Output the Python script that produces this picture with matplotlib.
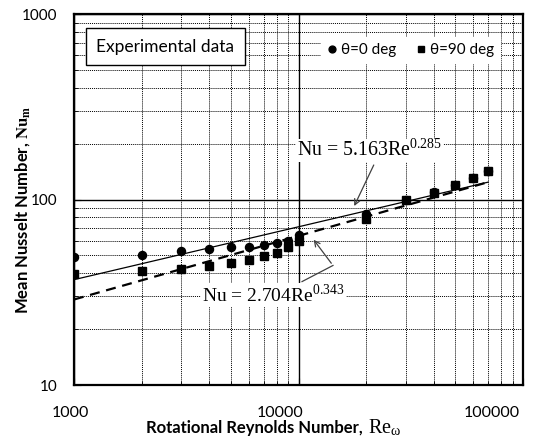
import matplotlib
matplotlib.use("Agg")
import matplotlib.pyplot as plt
import numpy as np

plt.rcParams['font.family'] = ['Lato', 'DejaVu Sans']
plt.rcParams['mathtext.fontset'] = 'stix'

# data
re_vals = [1000, 2000, 3000, 4000, 5000, 6000, 7000, 8000, 9000, 10000,
           20000, 30000, 40000, 50000, 60000, 70000]
nu_0deg = [49, 50, 52.5, 54.2, 55.3, 55.5, 57, 58.1, 60.1, 64,
           83.7, 100, 110, 119, 130, 143]
nu_90deg = [39.7, 41.4, 42.3, 43.6, 45.4, 47.3, 49.3, 51.4, 55.3, 60.1,
            78.8, 99, 108, 119, 130, 143]

# correlations Nu = C Re^n
fit_0 = (5.163, 0.285)
fit_90 = (2.704, 0.343)
fit_range = (1000, 70000)

x_ticklabels = ["1000", "10000", "100000"]
y_ticklabels = ["10", "100", "1000"]

fig = plt.figure(figsize=(5.56, 4.38), dpi=100)
ax = fig.add_axes([0.1331, 0.121, 0.8076, 0.847])

ax.set_xscale("log")
ax.set_yscale("log")
ax.set_xlim(1000, 100000)
ax.set_ylim(10, 1000)

# grid: solid at decades, dotted for minor
ax.grid(True, which="major", color="black", linewidth=1.0, linestyle="-")
ax.grid(True, which="minor", color="black", linewidth=0.7, linestyle=(0, (1, 1)))
ax.set_axisbelow(True)

for sp in ax.spines.values():
    sp.set_linewidth(1.6)

re_fit = np.logspace(np.log10(fit_range[0]), np.log10(fit_range[1]), 100)
ax.plot(re_fit, fit_0[0] * re_fit ** fit_0[1], color="black", linewidth=0.9, zorder=3)
ax.plot(re_fit, fit_90[0] * re_fit ** fit_90[1], color="black", linewidth=1.6,
        dashes=(4.5, 3), zorder=3)

ax.plot(re_vals, nu_0deg, "o", color="black", markersize=5.8, linestyle="none",
        label="θ=0 deg", zorder=4)
ax.plot(re_vals, nu_90deg, "s", color="black", markersize=5.8, linestyle="none",
        label="θ=90 deg", zorder=4)

# ticks
ax.tick_params(which="both", direction="in", top=False, right=False)
ax.tick_params(which="major", length=5, labelsize=11)
ax.tick_params(which="minor", length=3)
ax.tick_params(axis="y", which="major", pad=12)
ax.yaxis.set_minor_formatter(matplotlib.ticker.NullFormatter())
ax.xaxis.set_minor_formatter(matplotlib.ticker.NullFormatter())
ax.set_yticks([10, 100, 1000])
ax.set_yticklabels(y_ticklabels)
ax.set_xticks([1000, 10000, 100000])
ax.set_xticklabels([])
# excel-style labels, a bit shifted from their ticks
for xpos, lab in zip([-0.009, 0.459, 0.931], x_ticklabels):
    ax.text(xpos, -0.0755, lab, transform=ax.transAxes, ha="center", va="center",
            fontsize=11.5)

# axis titles: sans bold part + serif symbol part
fig.text(0.660, 0.0228, "Rotational Reynolds Number, ", ha="right", va="center",
         fontsize=12, fontweight="bold")
fig.text(0.662, 0.0228, r"Re$_{\mathregular{\omega}}$", ha="left", va="center",
         fontsize=14.5, family=["Liberation Serif", "DejaVu Serif"])
fig.text(0.04, 0.52, r"Mean Nusselt Number, $\mathbf{Nu}_{\mathbf{m}}$",
         rotation=90, ha="center", va="center", fontsize=12, fontweight="bold")

ax.text(0.203, 0.912, "Experimental data", transform=ax.transAxes, ha="center",
        va="center", fontsize=12.5,
        bbox=dict(boxstyle="square,pad=0.6", facecolor="white", edgecolor="black",
                  linewidth=1.0), zorder=5)

leg = ax.legend(loc="center", bbox_to_anchor=(0.75, 0.903), ncol=2, frameon=True,
                fontsize=11, handlelength=0.6, handletextpad=0.3, columnspacing=1.3,
                markerscale=0.85, borderpad=0.4, fancybox=False)
leg.get_frame().set_facecolor("white")
leg.get_frame().set_edgecolor("white")
leg.get_frame().set_alpha(1)

serif = ["Liberation Serif", "DejaVu Serif"]
ax.text(9840, 183.6, r"Nu = 5.163Re$^{\mathregular{0.285}}$", family=serif,
        fontsize=14.3, ha="left", va="center", zorder=5,
        bbox=dict(boxstyle="square,pad=0.05", facecolor="white", edgecolor="none"))
ax.annotate("", xy=(17490, 89.4), xytext=(21900, 158.3),
            arrowprops=dict(arrowstyle="->", color="#404040", linewidth=0.9), zorder=5)

ax.text(3716, 30.4, r"Nu = 2.704Re$^{\mathregular{0.343}}$", family=serif,
        fontsize=14, ha="left", va="center", zorder=5,
        bbox=dict(boxstyle="square,pad=0.05", facecolor="white", edgecolor="none"))
ax.plot([10366, 14240], [36.1, 44.1], color="#404040", linewidth=0.9, zorder=5)
ax.annotate("", xy=(11480, 62.4), xytext=(14240, 44.1),
            arrowprops=dict(arrowstyle="->", color="#404040", linewidth=0.9), zorder=5)

fig.savefig("out.png", dpi=100)
